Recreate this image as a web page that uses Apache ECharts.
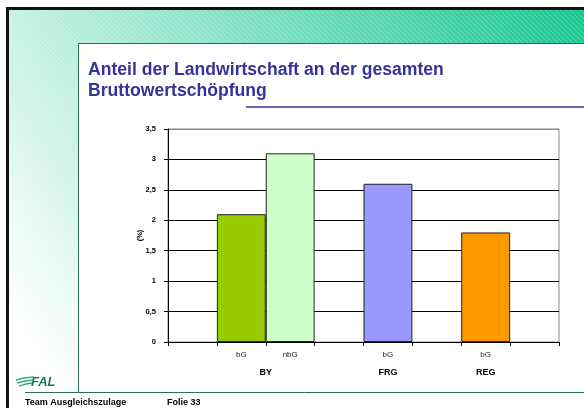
<!DOCTYPE html>
<html><head><meta charset="utf-8">
<script src="https://cdn.jsdelivr.net/npm/echarts/dist/echarts.min.js"></script>
<style>html,body{margin:0;padding:0;background:#fff}#c{width:584px;height:408px}</style>
</head><body><div id="c"></div>
<script>
const categories = ['', 'bG', 'nbG', '', 'bG', '', 'bG', ''];
const values = [null, 2.1, 3.1, null, 2.6, null, 1.8, null];
const barColors = [null, '#99cc00', '#ccffcc', null, '#9999ff', null, '#ff9900', null];
const groupNames = ['BY', 'FRG', 'REG'];
const groupCenters = [2, 4.5, 6.5];
const titleLines = ['Anteil der Landwirtschaft an der gesamten', 'Bruttowertschöpfung'];
const footerLeft = 'Team Ausgleichszulage';
const footerRight = 'Folie 33';

const FONT = 'Arial, "Liberation Sans", Helvetica, sans-serif';

// stripe pattern
const pc = document.createElement('canvas');
pc.width = 5; pc.height = 5;
const pctx = pc.getContext('2d');
pctx.strokeStyle = 'rgba(255,255,255,0.28)';
pctx.lineWidth = 1;
pctx.beginPath();
pctx.moveTo(-1, -1); pctx.lineTo(6, 6);
pctx.stroke();

const chart = echarts.init(document.getElementById('c'), null, {renderer: 'canvas'});
const Z = -10;
const graphic = [
  {type: 'rect', z: Z, shape: {x: 9, y: 10, width: 575, height: 382},
   style: {fill: new echarts.graphic.LinearGradient(1, 0, 0, 0.95, [
     {offset: 0, color: '#16c691'}, {offset: 0.95, color: '#ffffff'}, {offset: 1, color: '#ffffff'}])}},
  {type: 'rect', z: Z, shape: {x: 9, y: 10, width: 575, height: 300},
   style: {fill: {image: pc, repeat: 'repeat'}}},
  {type: 'rect', z: Z, shape: {x: 78, y: 43, width: 506, height: 349}, style: {fill: '#ffffff'}},
  {type: 'rect', z: Z, shape: {x: 9, y: 392, width: 575, height: 16}, style: {fill: '#ffffff'}},
  {type: 'line', z: Z, shape: {x1: 78.5, y1: 43, x2: 78.5, y2: 392}, style: {stroke: '#2e6e58', lineWidth: 1}},
  {type: 'line', z: Z, shape: {x1: 78, y1: 43.5, x2: 584, y2: 43.5}, style: {stroke: '#2e6e58', lineWidth: 1}},
  {type: 'line', z: Z, shape: {x1: 25, y1: 392.5, x2: 584, y2: 392.5}, style: {stroke: '#2e6e58', lineWidth: 1}},
  {type: 'rect', z: Z, shape: {x: 6, y: 7, width: 3, height: 401}, style: {fill: '#111'}},
  {type: 'rect', z: Z, shape: {x: 6, y: 7, width: 578, height: 3}, style: {fill: '#111'}},
  {type: 'text', left: 88, top: 61, style: {text: titleLines[0], font: 'bold 17.6px ' + FONT, fill: '#333399'}},
  {type: 'text', left: 88, top: 82, style: {text: titleLines[1], font: 'bold 17.6px ' + FONT, fill: '#333399'}},
  {type: 'line', shape: {x1: 246, y1: 107, x2: 584, y2: 107}, style: {stroke: '#333399', lineWidth: 1.5}},
  {type: 'text', left: 25, top: 398, style: {text: footerLeft, font: 'bold 9px ' + FONT, fill: '#000'}},
  {type: 'text', left: 167, top: 398, style: {text: footerRight, font: 'bold 9px ' + FONT, fill: '#000'}},
  {type: 'text', left: 31, top: 376, style: {text: 'FAL', font: 'italic bold 13px ' + FONT, fill: '#1f7560'}},
  {type: 'polyline', shape: {points: [[16, 380], [24, 378], [34, 377]]}, style: {stroke: '#3aa98a', lineWidth: 1.3, fill: null}},
  {type: 'polyline', shape: {points: [[17, 383], [25, 381], [33, 380]]}, style: {stroke: '#3aa98a', lineWidth: 1.3, fill: null}},
  {type: 'polyline', shape: {points: [[19, 386], [26, 384], [32, 383]]}, style: {stroke: '#3aa98a', lineWidth: 1.3, fill: null}}
];

chart.setOption({
  animation: false,
  graphic: graphic,
  grid: {left: 168, right: 25, top: 129, bottom: 66, show: true, borderColor: '#888', borderWidth: 1, backgroundColor: 'transparent'},
  xAxis: [
    {type: 'category', data: categories, boundaryGap: true,
     axisLine: {show: true, lineStyle: {color: '#000', width: 1}},
     axisTick: {show: true, interval: 0, length: 4, lineStyle: {color: '#000'}},
     axisLabel: {interval: 0, fontSize: 8, color: '#222', margin: 9, fontFamily: FONT},
     splitLine: {show: false}},
    {type: 'value', min: 0, max: 8, interval: 0.5, position: 'bottom',
     axisLine: {show: false}, axisTick: {show: false}, splitLine: {show: false},
     axisLabel: {margin: 26, fontSize: 9, fontWeight: 'bold', color: '#000', fontFamily: FONT,
       showMinLabel: true, showMaxLabel: true,
       formatter: function (v) { const i = groupCenters.indexOf(v); return i >= 0 ? groupNames[i] : ''; }}}
  ],
  yAxis: {type: 'value', min: 0, max: 3.5, interval: 0.5,
    name: '(%)', nameLocation: 'middle', nameRotate: 90, nameGap: 24, nameMoveOverlap: false,
    nameTextStyle: {fontSize: 7.5, fontWeight: 'bold', color: '#000', fontFamily: FONT},
    axisLine: {show: true, lineStyle: {color: '#000'}},
    axisTick: {show: true, length: 4, lineStyle: {color: '#000'}},
    axisLabel: {fontSize: 7.5, fontWeight: 'bold', color: '#000', margin: 12, fontFamily: FONT,
      formatter: function (v) { return String(v).replace('.', ','); }},
    splitLine: {show: true, lineStyle: {color: ['#000', '#000', '#000', '#000', '#000', '#000', '#000', '#888'], width: 1}}},
  series: [{
    type: 'bar', xAxisIndex: 0, barCategoryGap: '0%',
    data: values.map(function (v, i) { return v == null ? '-' : {value: v, itemStyle: {color: barColors[i]}}; }),
    itemStyle: {borderColor: '#222', borderWidth: 1}
  }]
});
</script></body></html>
